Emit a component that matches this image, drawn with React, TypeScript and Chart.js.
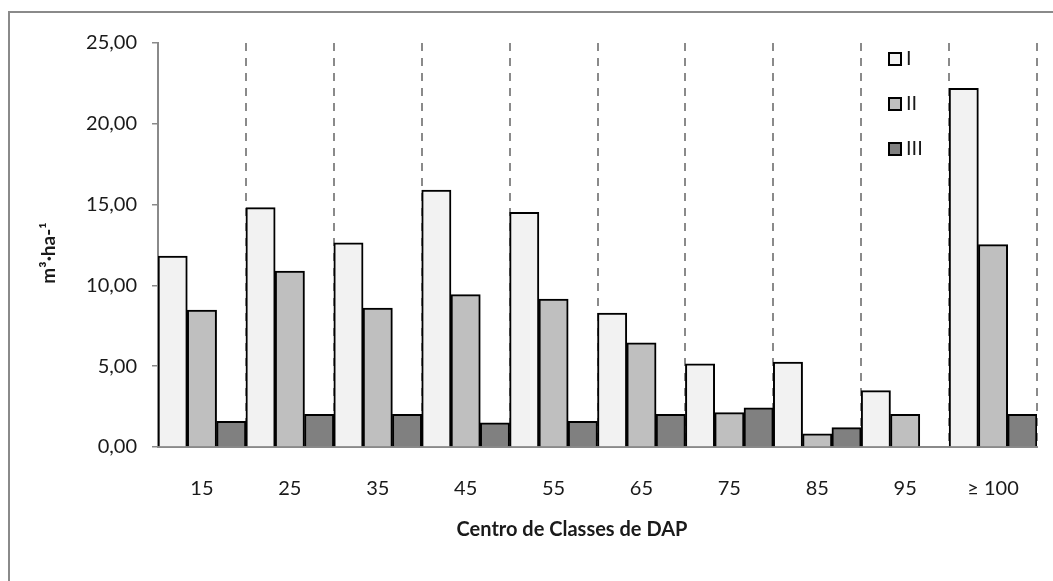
import React, { useEffect, useRef } from "react";
import { Chart, registerables } from "chart.js";

Chart.register(...registerables);

const categories = ["15", "25", "35", "45", "55", "65", "75", "85", "95", "≥ 100"];
const seriesI = [11.82, 14.81, 12.64, 15.9, 14.52, 8.29, 5.14, 5.26, 3.49, 22.2];
const seriesII = [8.48, 10.89, 8.6, 9.43, 9.16, 6.44, 2.13, 0.81, 2.02, 12.52];
const seriesIII = [1.59, 2.02, 2.02, 1.49, 1.59, 2.02, 2.42, 1.2, null, 2.02];
const seriesLabels = ["I", "II", "III"];
const seriesColors = ["#f2f2f2", "#bfbfbf", "#808080"];
const yMin = 0;
const yMax = 25;
const yStep = 5;
const xTitle = "Centro de Classes de DAP";
const yTitle = "m³·ha-¹";

const FONT = "Lato, 'Open Sans', 'DejaVu Sans', sans-serif";
const TEXT = "#1a1a1a";
const GRAY = "#8a8a8a";

const framePlugin = {
  id: "frame",
  beforeDraw(chart: any) {
    const ctx = chart.ctx;
    ctx.save();
    ctx.strokeStyle = GRAY;
    ctx.lineWidth = 2;
    ctx.beginPath();
    ctx.moveTo(9, chart.height);
    ctx.lineTo(9, 12);
    ctx.lineTo(chart.width, 12);
    ctx.stroke();
    ctx.restore();
  },
};

const decorPlugin = {
  id: "decor",
  afterDraw(chart: any) {
    const ctx = chart.ctx;
    const area = chart.chartArea;
    ctx.save();
    // axis titles
    ctx.fillStyle = TEXT;
    ctx.font = `bold 20px ${FONT}`;
    ctx.textAlign = "center";
    ctx.textBaseline = "middle";
    ctx.fillText(xTitle, 572, 530);
    ctx.save();
    ctx.font = `bold 19px ${FONT}`;
    ctx.translate(49, (area.top + area.bottom) / 2 + 8);
    ctx.rotate(-Math.PI / 2);
    ctx.fillText(yTitle, 0, 0);
    ctx.restore();
    // legend
    chart.data.datasets.forEach((ds: any, i: number) => {
      const bx = 889;
      const by = 53 + 45 * i;
      ctx.fillStyle = ds.backgroundColor;
      ctx.fillRect(bx, by, 12, 12);
      ctx.strokeStyle = "#000";
      ctx.lineWidth = 2;
      ctx.strokeRect(bx, by, 12, 12);
      ctx.fillStyle = TEXT;
      ctx.font = `20px ${FONT}`;
      ctx.textAlign = "left";
      ctx.textBaseline = "middle";
      ctx.fillText(ds.label, 906, by + 6);
    });
    ctx.restore();
  },
};

export default function App() {
  const ref = useRef<HTMLCanvasElement | null>(null);
  useEffect(() => {
    if (!ref.current) return;
    const seriesData = [seriesI, seriesII, seriesIII];
    const chart = new Chart(ref.current, {
      type: "bar",
      data: {
        labels: categories,
        datasets: seriesLabels.map((label, i) => ({
          label,
          data: seriesData[i],
          backgroundColor: seriesColors[i],
          borderColor: "#000",
          borderWidth: 2,
          categoryPercentage: 1,
          barPercentage: 1,
        })),
      },
      options: {
        responsive: false,
        animation: false,
        layout: { padding: { left: 0, top: 43, right: 16, bottom: 0 } },
        plugins: {
          legend: { display: false },
          tooltip: { enabled: false },
          title: { display: false },
        },
        scales: {
          x: {
            type: "category",
            offset: true,
            grid: {
              display: true,
              offset: true,
              color: GRAY,
              lineWidth: 2,
              drawTicks: false,
            },
            border: { display: true, color: GRAY, width: 2, dash: [8, 7] },
            ticks: {
              color: TEXT,
              font: { family: FONT, size: 20 },
              padding: 30,
              maxRotation: 0,
            },
            afterFit: (scale: any) => {
              scale.height = 581 - 447;
            },
          },
          y: {
            min: yMin,
            max: yMax,
            grid: {
              display: true,
              drawOnChartArea: false,
              drawTicks: true,
              tickLength: 6,
              color: GRAY,
              lineWidth: 1.5,
            },
            border: { display: true, color: GRAY, width: 2 },
            ticks: {
              stepSize: yStep,
              color: TEXT,
              padding: 15,
              font: { family: FONT, size: 20 },
              callback: (v: any) => Number(v).toFixed(2).replace(".", ","),
            },
            afterFit: (scale: any) => {
              scale.width = 158;
            },
          },
        },
      },
      plugins: [framePlugin, decorPlugin],
    });
    return () => chart.destroy();
  }, []);
  return (
    <div style={{ position: "fixed", left: 0, top: 0, width: 1053, height: 581, background: "#fff" }}>
      <canvas ref={ref} width={1053} height={581} style={{ display: "block" }} />
    </div>
  );
}
